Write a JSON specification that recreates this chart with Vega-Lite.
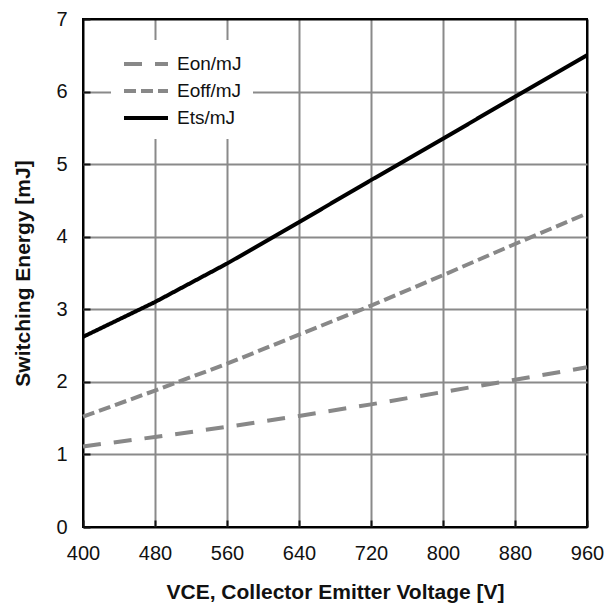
{
  "$schema": "https://vega.github.io/schema/vega-lite/v6.json",
  "width": 504,
  "height": 508,
  "autosize": {"type": "none"},
  "padding": {"left": 83, "top": 19, "right": 29, "bottom": 81},
  "background": "white",
  "config": {
    "font": "Liberation Sans",
    "view": {"stroke": "black", "strokeWidth": 2},
    "axis": {
      "labelFont": "Liberation Sans",
      "labelFontSize": 20,
      "labelColor": "#111111",
      "titleFont": "Liberation Sans",
      "titleFontSize": 21,
      "titleFontWeight": "bold",
      "titleColor": "#111111",
      "domain": false,
      "ticks": true,
      "tickSize": -7,
      "tickWidth": 2,
      "tickColor": "#111111",
      "grid": true,
      "gridWidth": 2
    }
  },
  "data": {
    "values": [
      {"vce": 400, "series": "Eon/mJ", "energy": 1.11},
      {"vce": 480, "series": "Eon/mJ", "energy": 1.24},
      {"vce": 560, "series": "Eon/mJ", "energy": 1.38},
      {"vce": 640, "series": "Eon/mJ", "energy": 1.53},
      {"vce": 720, "series": "Eon/mJ", "energy": 1.69},
      {"vce": 800, "series": "Eon/mJ", "energy": 1.86},
      {"vce": 880, "series": "Eon/mJ", "energy": 2.03},
      {"vce": 960, "series": "Eon/mJ", "energy": 2.2},
      {"vce": 400, "series": "Eoff/mJ", "energy": 1.52},
      {"vce": 480, "series": "Eoff/mJ", "energy": 1.88},
      {"vce": 560, "series": "Eoff/mJ", "energy": 2.25},
      {"vce": 640, "series": "Eoff/mJ", "energy": 2.65},
      {"vce": 720, "series": "Eoff/mJ", "energy": 3.05},
      {"vce": 800, "series": "Eoff/mJ", "energy": 3.47},
      {"vce": 880, "series": "Eoff/mJ", "energy": 3.9},
      {"vce": 960, "series": "Eoff/mJ", "energy": 4.32},
      {"vce": 400, "series": "Ets/mJ", "energy": 2.62},
      {"vce": 480, "series": "Ets/mJ", "energy": 3.1},
      {"vce": 560, "series": "Ets/mJ", "energy": 3.63},
      {"vce": 640, "series": "Ets/mJ", "energy": 4.2},
      {"vce": 720, "series": "Ets/mJ", "energy": 4.78},
      {"vce": 800, "series": "Ets/mJ", "energy": 5.35},
      {"vce": 880, "series": "Ets/mJ", "energy": 5.93},
      {"vce": 960, "series": "Ets/mJ", "energy": 6.5}
    ]
  },
  "mark": {"type": "line", "strokeWidth": 4, "strokeCap": "butt"},
  "encoding": {
    "x": {
      "field": "vce",
      "type": "quantitative",
      "scale": {"domain": [400, 960], "nice": false},
      "axis": {
        "values": [400, 480, 560, 640, 720, 800, 880, 960],
        "title": "VCE, Collector Emitter Voltage [V]",
        "labelPadding": 23,
        "titlePadding": 18,
        "labelFlush": false,
        "gridColor": {"condition": {"test": "datum.value == 400 || datum.value == 960", "value": "black"}, "value": "#8a8a8a"}
      }
    },
    "y": {
      "field": "energy",
      "type": "quantitative",
      "scale": {"domain": [0, 7], "nice": false},
      "axis": {
        "values": [0, 1, 2, 3, 4, 5, 6, 7],
        "title": "Switching Energy [mJ]",
        "labelPadding": 23,
        "titlePadding": 22,
        "labelFlush": false,
        "gridColor": {"condition": {"test": "datum.value == 0 || datum.value == 7", "value": "black"}, "value": "#8a8a8a"}
      }
    },
    "color": {
      "field": "series",
      "type": "nominal",
      "scale": {"domain": ["Eon/mJ", "Eoff/mJ", "Ets/mJ"], "range": ["#888888", "#888888", "#000000"]},
      "legend": {
        "title": null,
        "orient": "none",
        "legendX": 28,
        "legendY": 21,
        "fillColor": "white",
        "padding": 11,
        "symbolType": "M-1,0H3",
        "symbolSize": 484,
        "symbolStrokeWidth": 4,
        "labelOffset": 29,
        "labelFont": "Liberation Sans",
        "labelFontSize": 19,
        "labelColor": "#111111",
        "rowPadding": 4
      }
    },
    "strokeDash": {
      "field": "series",
      "type": "nominal",
      "scale": {"domain": ["Eon/mJ", "Eoff/mJ", "Ets/mJ"], "range": [[18, 13], [12, 5], [1, 0]]}
    }
  }
}
